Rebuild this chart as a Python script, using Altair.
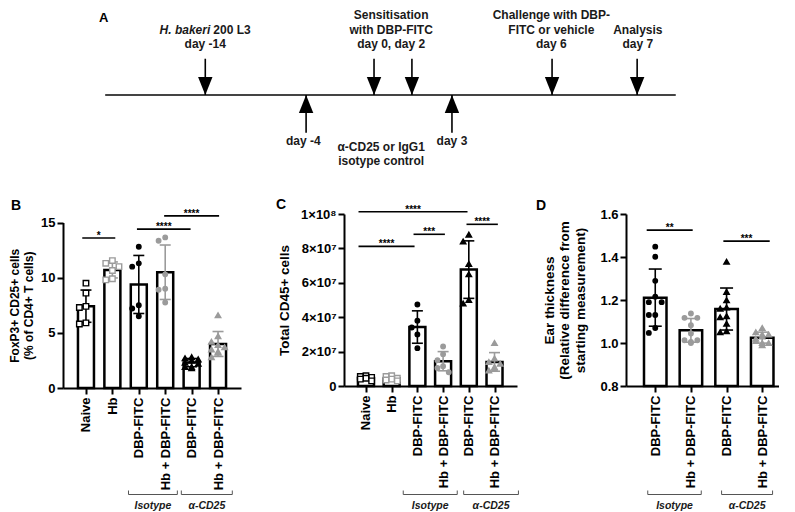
import altair as alt
import pandas as pd

FONT = "Liberation Sans"
INK = "#000000"
GREY = "#9b9b9b"
TXT = "#1a1a1a"

# ---------------- Panel A : timeline schematic (schematic units 0-100) ----------------
tl_line = [5.9, 85.7]
down_pos = [19.9, 43.5, 48.8, 68.4, 80.3]      # H. bakeri, sensitisation x2, challenge, analysis
up_pos = [34.0, 54.4]                           # antibody day -4, day 3
top_text = ["Sensitisation", "with DBP-FITC", "day 0, day 2",
            "Challenge with DBP-", "FITC or vehicle", "day 6",
            "Analysis", "day 7", "day -14"]
top_text_pos = [45.9, 45.9, 45.9, 68.3, 68.3, 68.3, 80.4, 80.4, 19.9]
top_text_row = [5.5, 4.5, 3.5, 5.5, 4.5, 3.5, 4.5, 3.5, 3.5]
bottom_text = ["day -4", "α-CD25 or IgG1", "isotype control", "day 3"]
bottom_text_pos = [33.6, 44.5, 44.5, 54.4]
bottom_text_row = [-3.2, -3.6, -4.55, -3.2]

# ---------------- Panel B : FoxP3+ CD25+ (% of CD4+) ----------------
b_labels = ["Naive", "Hb", "DBP-FITC", "Hb + DBP-FITC", "DBP-FITC", "Hb + DBP-FITC"]
b_naive = [9.5, 8.6, 7.4, 7.3, 5.8, 5.9]
b_hb = [11.55, 11.3, 11.0, 10.65, 9.9, 9.8]
b_dbp_iso = [12.8, 11.3, 11.0, 7.5, 7.2, 6.5]
b_hbdbp_iso = [13.35, 13.65, 10.3, 9.0, 8.9, 7.75]
b_dbp_cd25 = [2.8, 2.7, 2.6, 2.5, 2.3, 2.2, 1.9, 1.8, 1.9]
b_hbdbp_cd25 = [6.6, 4.7, 4.2, 3.9, 3.7, 3.5, 3.2, 2.8, 3.3]
b_sig = [(-0.14, 1.11, 13.6, "*"), (1.93, 3.96, 14.4, "****"), (2.96, 5.04, 15.6, "****")]
b_brackets = [(1.61, 3.46, "Isotype"), (3.61, 5.54, "α-CD25")]

# ---------------- Panel C : Total CD45+ cells ----------------
c_labels = ["Naive", "Hb", "DBP-FITC", "Hb + DBP-FITC", "DBP-FITC", "Hb + DBP-FITC"]
c_naive = [0.60e7, 0.55e7, 0.50e7, 0.45e7, 0.40e7, 0.30e7]
c_hb = [0.60e7, 0.55e7, 0.45e7, 0.40e7, 0.35e7, 0.30e7]
c_dbp_iso = [4.74e7, 3.8e7, 3.4e7, 3.0e7, 2.2e7]
c_hbdbp_iso = [2.3e7, 1.85e7, 1.5e7, 1.15e7, 1.05e7, 0.8e7]
c_dbp_cd25 = [8.8e7, 8.4e7, 7.1e7, 6.5e7, 5.0e7, 4.8e7]
c_hbdbp_cd25 = [2.5e7, 1.6e7, 1.4e7, 1.3e7, 1.1e7, 1.0e7, 0.9e7]
c_sig = [(-0.29, 3.95, 1.013e8, "****"), (-0.29, 1.89, 0.812e8, "****"),
         (1.85, 3.07, 0.882e8, "***"), (3.91, 5.13, 0.94e8, "****")]
c_brackets = [(1.45, 3.55, "Isotype"), (3.8, 5.93, "α-CD25")]

# ---------------- Panel D : Ear thickness ----------------
d_labels = ["DBP-FITC", "Hb + DBP-FITC", "DBP-FITC", "Hb + DBP-FITC"]
d_dbp_iso = [1.448, 1.401, 1.289, 1.215, 1.19, 1.19, 1.13, 1.13, 1.07, 1.047]
d_hbdbp_iso = [1.137, 1.117, 1.117, 1.083, 1.044, 1.013, 1.013, 1.005, 1.0]
d_dbp_cd25 = [1.378, 1.238, 1.199, 1.165, 1.16, 1.125, 1.12, 1.09, 1.055, 1.05]
d_hbdbp_cd25 = [1.07, 1.05, 1.04, 1.04, 1.03, 1.02, 1.01, 1.0, 1.0, 0.99]
d_sig = [(-0.24, 1.05, 1.525, "**"), (1.91, 3.21, 1.474, "***")]
d_brackets = [(-0.21, 1.29, "Isotype"), (1.86, 3.29, "α-CD25")]

# marker styles: (shape, colour, open)
OPEN_SQ_K = ("square", INK, True)
OPEN_SQ_G = ("square", GREY, True)
CIRC_K = ("circle", INK, False)
CIRC_G = ("circle", GREY, False)
TRI_K = ("triangle-up", INK, False)
TRI_G = ("triangle-up", GREY, False)
SIZES = {"square": 30, "circle": 20, "triangle-up": 30}


def beeswarm(values, thr, step):
    """Side-by-side placement of close values (max one step either side)."""
    order = sorted(range(len(values)), key=lambda i: -values[i])
    offs = [0.0] * len(values)
    placed = []
    for i in order:
        v = values[i]
        best, best_n = 0.0, None
        for k in [0, -1, 1]:
            o = k * step
            n = sum(1 for pv, po in placed if abs(v - pv) < thr and abs(o - po) < step * 0.9)
            if best_n is None or n < best_n:
                best, best_n = o, n
            if n == 0:
                break
        offs[i] = best
        placed.append((v, best))
    return offs


def make_panel(labels, series, styles, sig, brackets, ydomain, yvalues, ylabel_expr,
               ytitle, title_size, title_x, title_lh, width, height, xdomain, bar_w, cap_w,
               jit_step, letter, letter_xy, yrange=None, br_y=280.5):
    thr = (ydomain[1] - ydomain[0]) * 7.0 / height
    rows = []
    for i, (vals, st) in enumerate(zip(series, styles)):
        offs = beeswarm(vals, thr, jit_step)
        shape, col, is_open = st
        for v, o in zip(vals, offs):
            rows.append({"idx": i, "xp": i + o, "value": v, "shape": shape,
                         "fill": "white" if is_open else col, "stroke": col,
                         "size": SIZES[shape]})
    pts = pd.DataFrame(rows)

    label_arr = "[" + ",".join("'" + l + "'" for l in labels) + "]"
    xs = alt.Scale(domain=xdomain, nice=False, zero=False)
    xaxis = alt.Axis(values=list(range(len(labels))), labelExpr=label_arr + "[datum.value]",
                     labelAngle=-90, title=None, labelOverlap=False, labelFlush=False,
                     labelPadding=3)
    ys_kwargs = dict(domain=ydomain, nice=False, zero=False)
    if yrange is not None:
        ys_kwargs["range"] = yrange
        ymid = (yrange[0] + yrange[1]) / 2
    else:
        ymid = height / 2
    ys = alt.Scale(**ys_kwargs)
    yaxis = alt.Axis(values=yvalues, labelExpr=ylabel_expr, title=ytitle,
                     titleFontSize=title_size, titleLineHeight=title_lh,
                     titleX=title_x, titleY=ymid, titleAngle=270,
                     titleAlign="center", titleBaseline="bottom")

    def X(f):
        return alt.X(f, scale=xs, axis=xaxis)

    def Y(f):
        return alt.Y(f, scale=ys, axis=yaxis)

    base = alt.Chart(pts)
    bars = base.mark_bar(width=bar_w, fill="white", stroke=INK, strokeWidth=2.5).encode(
        x=X("idx:Q"), y=Y("mean(value):Q"), y2=alt.datum(ydomain[0]))

    agg = base.transform_aggregate(
        m="mean(value)", s="stdev(value)", groupby=["idx", "stroke"]
    ).transform_calculate(lo="datum.m - datum.s", hi="datum.m + datum.s")
    err = agg.mark_rule(strokeWidth=1.6).encode(
        x=X("idx:Q"), y=Y("lo:Q"), y2="hi:Q", color=alt.Color("stroke:N", scale=None))
    cap_lo = agg.mark_rule(strokeWidth=1.6, xOffset=-cap_w / 2, x2Offset=cap_w / 2).encode(
        x=X("idx:Q"), x2="idx:Q", y=Y("lo:Q"), color=alt.Color("stroke:N", scale=None))
    cap_hi = agg.mark_rule(strokeWidth=1.6, xOffset=-cap_w / 2, x2Offset=cap_w / 2).encode(
        x=X("idx:Q"), x2="idx:Q", y=Y("hi:Q"), color=alt.Color("stroke:N", scale=None))

    points = base.mark_point(filled=True, opacity=1, strokeWidth=1.4).encode(
        x=X("xp:Q"), y=Y("value:Q"),
        shape=alt.Shape("shape:N", scale=None),
        fill=alt.Fill("fill:N", scale=None),
        stroke=alt.Stroke("stroke:N", scale=None),
        size=alt.Size("size:Q", scale=None))

    sdf = pd.DataFrame(sig, columns=["x1", "x2", "y", "lab"])
    sdf["xm"] = (sdf["x1"] + sdf["x2"]) / 2
    sig_rule = alt.Chart(sdf).mark_rule(strokeWidth=1.6, color=INK).encode(
        x=X("x1:Q"), x2="x2:Q", y=Y("y:Q"))
    sig_txt = alt.Chart(sdf).mark_text(fontSize=10, fontWeight="bold", baseline="alphabetic",
                                       dy=1, color=INK).encode(
        x=X("xm:Q"), y=Y("y:Q"), text="lab:N")

    bdf = pd.DataFrame(brackets, columns=["b1", "b2", "lab"])
    bdf["bm"] = (bdf["b1"] + bdf["b2"]) / 2
    bc = alt.Chart(bdf)
    br_h = bc.mark_rule(color="#555555", strokeWidth=1).encode(
        x=X("b1:Q"), x2="b2:Q", y=alt.value(br_y))
    br_l = bc.mark_rule(color="#555555", strokeWidth=1).encode(
        x=X("b1:Q"), y=alt.value(br_y), y2=alt.value(br_y - 4))
    br_r = bc.mark_rule(color="#555555", strokeWidth=1).encode(
        x=X("b2:Q"), y=alt.value(br_y), y2=alt.value(br_y - 4))
    br_t = bc.mark_text(fontSize=10.5, fontWeight="bold", fontStyle="italic", color=TXT).encode(
        x=X("bm:Q"), y=alt.value(br_y + 11), text="lab:N")

    let = alt.Chart(pd.DataFrame({"t": [letter]})).mark_text(
        fontSize=14, fontWeight="bold", color=INK).encode(
        text="t:N", x=alt.value(letter_xy[0]), y=alt.value(letter_xy[1]))

    return alt.layer(bars, err, cap_lo, cap_hi, points, sig_rule, sig_txt,
                     br_h, br_l, br_r, br_t, let).properties(width=width, height=height)


panel_b = make_panel(
    b_labels, [b_naive, b_hb, b_dbp_iso, b_hbdbp_iso, b_dbp_cd25, b_hbdbp_cd25],
    [OPEN_SQ_K, OPEN_SQ_G, CIRC_K, CIRC_G, TRI_K, TRI_G], b_sig, b_brackets,
    [0, 15], [0, 5, 10, 15], "format(datum.value, 'd')",
    ["FoxP3+ CD25+ cells", "(% of CD4+ T cells)"], 12, -42, 14, 178, 174,
    [-0.68, 5.68], 16, 11, 0.25, "B", (-47, -8), yrange=[174, 8.5])

panel_c = make_panel(
    c_labels, [c_naive, c_hb, c_dbp_iso, c_hbdbp_iso, c_dbp_cd25, c_hbdbp_cd25],
    [OPEN_SQ_K, OPEN_SQ_G, CIRC_K, CIRC_G, TRI_K, TRI_G], c_sig, c_brackets,
    [0, 1e8], [0, 2e7, 4e7, 6e7, 8e7, 1e8],
    "datum.value == 0 ? '0' : (datum.value >= 1e8 ? '1×10⁸' : format(datum.value / 1e7, 'd') + '×10⁷')",
    "Total CD45+ cells", 13.5, -53, 16, 173, 172,
    [-0.66, 5.68], 16, 11, 0.22, "C", (-63, -9))

panel_d = make_panel(
    d_labels, [d_dbp_iso, d_hbdbp_iso, d_dbp_cd25, d_hbdbp_cd25],
    [CIRC_K, CIRC_G, TRI_K, TRI_G], d_sig, d_brackets,
    [0.8, 1.6], [0.8, 1.0, 1.2, 1.4, 1.6], "format(datum.value, '.1f')",
    ["Ear thickness", "(Relative difference from", "starting measurement)"], 13.5, -70, 15.5,
    153, 172, [-0.68, 3.33], 22.5, 13, 0.18, "D", (-85, -8))

# ---------------- build panel A ----------------
AX = alt.X("p:Q", scale=alt.Scale(domain=[0, 100], nice=False, zero=False), axis=None)
AY = alt.Y("r:Q", scale=alt.Scale(domain=[-4.9, 6.0], nice=False, zero=False), axis=None)
DOWN_HEAD = "M-0.4,-1L0.4,-1L0,0Z"
UP_HEAD = "M-0.4,1L0.4,1L0,0Z"

tl = alt.Chart(pd.DataFrame({"p": [tl_line[0]], "p2": [tl_line[1]], "r": [0]})).mark_rule(
    color="#444444", strokeWidth=2).encode(x=AX, x2="p2:Q", y=AY)
dshaft = alt.Chart(pd.DataFrame({"p": down_pos, "r": [2.5] * len(down_pos), "r2": [0] * len(down_pos)})
                   ).mark_rule(color=INK, strokeWidth=1.6).encode(x=AX, y=AY, y2="r2:Q")
dhead = alt.Chart(pd.DataFrame({"p": down_pos, "r": [0] * len(down_pos)})).mark_point(
    shape=DOWN_HEAD, size=1296, filled=True, color=INK, opacity=1).encode(x=AX, y=AY)
ushaft = alt.Chart(pd.DataFrame({"p": up_pos, "r": [-2.6] * len(up_pos), "r2": [0] * len(up_pos)})
                   ).mark_rule(color=INK, strokeWidth=1.6).encode(x=AX, y=AY, y2="r2:Q")
uhead = alt.Chart(pd.DataFrame({"p": up_pos, "r": [0] * len(up_pos)})).mark_point(
    shape=UP_HEAD, size=1296, filled=True, color=INK, opacity=1).encode(x=AX, y=AY)
ttxt = alt.Chart(pd.DataFrame({"p": top_text_pos, "r": top_text_row, "t": top_text})).mark_text(
    fontSize=12, fontWeight="bold", color=TXT).encode(x=AX, y=AY, text="t:N")
btxt = alt.Chart(pd.DataFrame({"p": bottom_text_pos, "r": bottom_text_row, "t": bottom_text})).mark_text(
    fontSize=12, fontWeight="bold", color=TXT).encode(x=AX, y=AY, text="t:N")
hb_it = alt.Chart(pd.DataFrame({"p": [down_pos[0]], "r": [4.5], "t": ["H. bakeri"]})).mark_text(
    fontSize=12, fontWeight="bold", fontStyle="italic", align="right", dx=5, color=TXT).encode(
    x=AX, y=AY, text="t:N")
hb_n = alt.Chart(pd.DataFrame({"p": [down_pos[0]], "r": [4.5], "t": ["200 L3"]})).mark_text(
    fontSize=12, fontWeight="bold", align="left", dx=8, color=TXT).encode(x=AX, y=AY, text="t:N")
a_let = alt.Chart(pd.DataFrame({"p": [5.7], "r": [5.33], "t": ["A"]})).mark_text(
    fontSize=13, fontWeight="bold", color=INK).encode(x=AX, y=AY, text="t:N")

panel_a = alt.layer(tl, dshaft, dhead, ushaft, uhead, ttxt, btxt, hb_it, hb_n, a_let).properties(
    width=715, height=158)

row = alt.hconcat(panel_b, alt.hconcat(panel_c, panel_d, spacing=16), spacing=34)
chart = alt.vconcat(panel_a, row, spacing=31).properties(
    padding={"left": 0, "top": 0, "right": 0, "bottom": 0}, background="white"
).configure_view(stroke=None).configure_axis(
    domainColor=INK, domainWidth=2, tickColor=INK, tickWidth=2, tickSize=6,
    labelColor=INK, labelFont=FONT, labelFontWeight="bold", labelFontSize=13,
    titleFont=FONT, titleFontWeight="bold", titleColor=INK, grid=False
).configure_text(font=FONT)

chart.save("out.html", embed_options={"renderer": "svg", "actions": False})
